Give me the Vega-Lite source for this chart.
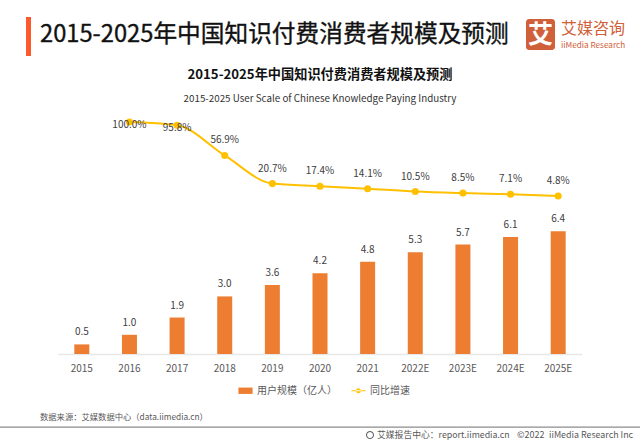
{
  "$schema": "https://vega.github.io/schema/vega-lite/v6.json",
  "width": 524,
  "height": 244,
  "autosize": {"type": "none"},
  "padding": {"left": 58, "top": 110, "right": 58, "bottom": 89},
  "background": "white",
  "config": {"font": "Noto Sans CJK SC", "view": {"stroke": null}},
  "data": {
    "values": [
      {"year": "2015", "users": 0.5, "growth": null},
      {"year": "2016", "users": 1.0, "growth": 1.0},
      {"year": "2017", "users": 1.9, "growth": 0.958},
      {"year": "2018", "users": 3.0, "growth": 0.569},
      {"year": "2019", "users": 3.6, "growth": 0.207},
      {"year": "2020", "users": 4.2, "growth": 0.174},
      {"year": "2021", "users": 4.8, "growth": 0.141},
      {"year": "2022E", "users": 5.3, "growth": 0.105},
      {"year": "2023E", "users": 5.7, "growth": 0.085},
      {"year": "2024E", "users": 6.1, "growth": 0.071},
      {"year": "2025E", "users": 6.4, "growth": 0.048}
    ]
  },
  "layer": [
    {
      "mark": {"type": "bar", "size": 15},
      "encoding": {
        "x": {
          "field": "year",
          "type": "nominal",
          "title": null,
          "axis": {"labelAngle": 0, "labelFontSize": 10, "labelColor": "#595959", "labelPadding": 9, "domainColor": "#e8e8e8", "domainWidth": 1.5, "ticks": false}
        },
        "y": {"field": "users", "type": "quantitative", "axis": null, "scale": {"domain": [0, 12.71]}},
        "color": {
          "datum": "用户规模（亿人）",
          "scale": {"domain": ["用户规模（亿人）", "同比增速"], "range": ["#ed7d31", "#ffc000"]},
          "legend": {
            "title": null,
            "orient": "none",
            "legendX": 180,
            "legendY": 273,
            "direction": "horizontal",
            "labelFontSize": 10,
            "labelColor": "#595959",
            "columnPadding": 14,
            "symbolSize": 200,
            "encode": {
              "symbols": {
                "update": {
                  "shape": {"signal": "datum.value === '同比增速' ? 'M-1,-0.08H1V0.08H-1Z M-0.35,0a0.35,0.35 0 1,0 0.7,0a0.35,0.35 0 1,0 -0.7,0Z' : 'M-1,-0.45H1V0.45H-1Z'"},
                  "fill": {"signal": "datum.value === '同比增速' ? '#ffc000' : '#ed7d31'"},
                  "strokeWidth": {"value": 0}
                }
              }
            }
          }
        }
      }
    },
    {
      "mark": {"type": "text", "dy": -12, "fontSize": 10, "color": "#404040"},
      "encoding": {
        "x": {"field": "year", "type": "nominal"},
        "y": {"field": "users", "type": "quantitative", "axis": null, "scale": {"domain": [0, 12.71]}},
        "text": {"field": "users", "type": "quantitative", "format": ".1f"}
      }
    },
    {
      "transform": [{"filter": "datum.growth != null"}],
      "mark": {"type": "line", "interpolate": "monotone", "strokeWidth": 2, "point": {"filled": true, "size": 50, "color": "#ffc000"}},
      "encoding": {
        "x": {"field": "year", "type": "nominal"},
        "y": {"field": "growth", "type": "quantitative", "axis": null, "scale": {"domain": [-1.985, 1.154]}},
        "color": {"datum": "同比增速"}
      }
    },
    {
      "transform": [{"filter": "datum.growth != null && datum.growth < 0.9"}],
      "mark": {"type": "text", "dy": -15, "fontSize": 10, "color": "#404040"},
      "encoding": {
        "x": {"field": "year", "type": "nominal"},
        "y": {"field": "growth", "type": "quantitative", "axis": null, "scale": {"domain": [-1.985, 1.154]}},
        "text": {"field": "growth", "type": "quantitative", "format": ".1%"}
      }
    },
    {
      "transform": [{"filter": "datum.growth >= 0.9"}],
      "mark": {"type": "text", "dy": 3, "fontSize": 10, "color": "#404040"},
      "encoding": {
        "x": {"field": "year", "type": "nominal"},
        "y": {"field": "growth", "type": "quantitative", "axis": null, "scale": {"domain": [-1.985, 1.154]}},
        "text": {"field": "growth", "type": "quantitative", "format": ".1%"}
      }
    },
    {
      "data": {"values": [{"label": "2015-2025年中国知识付费消费者规模及预测"}]},
      "mark": {"type": "text", "x": -18, "y": -75, "align": "left", "fontSize": 23.7, "fontWeight": "normal", "color": "#111111", "stroke": "#111111", "strokeWidth": 0.35},
      "encoding": {"text": {"field": "label"}}
    },
    {
      "data": {"values": [{"label": "2015-2025年中国知识付费消费者规模及预测"}]},
      "mark": {"type": "text", "x": 262, "y": -35, "fontSize": 13.2, "fontWeight": "bold", "color": "#111111"},
      "encoding": {"text": {"field": "label"}}
    },
    {
      "data": {"values": [{"label": "2015-2025 User Scale of Chinese Knowledge Paying Industry"}]},
      "mark": {"type": "text", "x": 262, "y": -11, "fontSize": 9.8, "color": "#333333"},
      "encoding": {"text": {"field": "label"}}
    },
    {
      "data": {"values": [{"label": "accent"}]},
      "mark": {"type": "rect", "x": -32, "x2": -27, "y": -93, "y2": -54, "color": "#fc5a2c"},
      "encoding": {}
    },
    {
      "data": {"values": [{"label": "logo"}]},
      "mark": {"type": "rect", "x": 468, "x2": 497, "y": -91, "y2": -60, "color": "#d0603a", "cornerRadius": 3},
      "encoding": {}
    },
    {
      "data": {"values": [{"label": "艾"}]},
      "mark": {"type": "text", "x": 482.5, "y": -75, "fontSize": 25, "fontWeight": "bold", "color": "white"},
      "encoding": {"text": {"field": "label"}}
    },
    {
      "data": {"values": [{"label": "艾媒咨询"}]},
      "mark": {"type": "text", "x": 503, "y": -81, "align": "left", "fontSize": 16, "fontWeight": "normal", "color": "#d0603a"},
      "encoding": {"text": {"field": "label"}}
    },
    {
      "data": {"values": [{"label": "iiMedia Research"}]},
      "mark": {"type": "text", "x": 503, "y": -64, "align": "left", "fontSize": 8.2, "fontWeight": "normal", "color": "#d0603a"},
      "encoding": {"text": {"field": "label"}}
    },
    {
      "data": {"values": [{"label": "数据来源：艾媒数据中心（data.iimedia.cn）"}]},
      "mark": {"type": "text", "x": -18, "y": 308, "align": "left", "fontSize": 8.3, "color": "#595959"},
      "encoding": {"text": {"field": "label"}}
    },
    {
      "data": {"values": [{"label": "rule"}]},
      "mark": {"type": "rect", "x": -58, "x2": 582, "y": 316.5, "y2": 317.7, "color": "#8c8c8c"},
      "encoding": {}
    },
    {
      "data": {"values": [{"label": "艾媒报告中心：report.iimedia.cn"}]},
      "mark": {"type": "text", "x": 319, "y": 325, "align": "left", "fontSize": 8.8, "color": "#595959"},
      "encoding": {"text": {"field": "label"}}
    },
    {
      "data": {"values": [{"label": "©2022"}]},
      "mark": {"type": "text", "x": 459, "y": 325, "align": "left", "fontSize": 9, "color": "#595959"},
      "encoding": {"text": {"field": "label"}}
    },
    {
      "data": {"values": [{"label": "iiMedia Research  Inc"}]},
      "mark": {"type": "text", "x": 491, "y": 325, "align": "left", "fontSize": 8.9, "color": "#595959"},
      "encoding": {"text": {"field": "label"}}
    },
    {
      "data": {"values": [{"label": "icon"}]},
      "mark": {"type": "arc", "x": 312, "y": 325, "innerRadius": 3, "outerRadius": 4, "theta": 0, "theta2": 6.283, "color": "#595959"},
      "encoding": {}
    }
  ],
  "resolve": {"scale": {"y": "independent"}}
}
